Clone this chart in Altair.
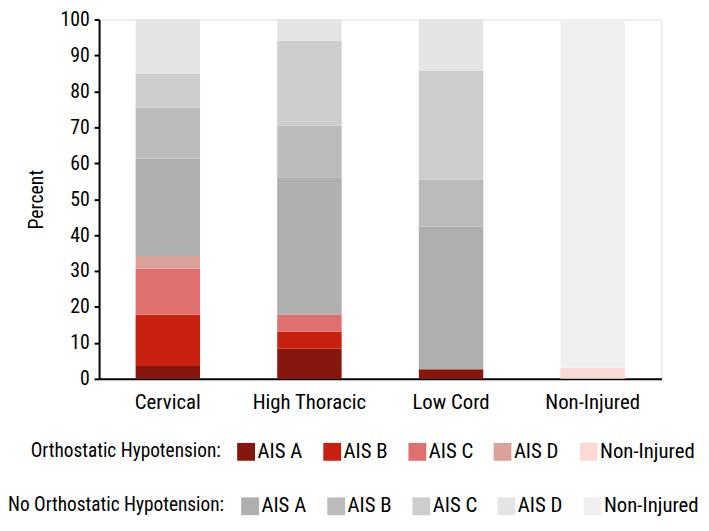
import altair as alt
import pandas as pd

groups = ["Cervical", "High Thoracic", "Low Cord", "Non-Injured"]
levels = ["AIS A", "AIS B", "AIS C", "AIS D", "Non-Injured"]

# percent values per group, order: AIS A, AIS B, AIS C, AIS D, Non-Injured
oh_values = {
    "Cervical": [3.6, 14.2, 12.9, 3.5, 0.0],
    "High Thoracic": [8.4, 4.7, 4.8, 0.0, 0.0],
    "Low Cord": [2.7, 0.0, 0.0, 0.0, 0.0],
    "Non-Injured": [0.0, 0.0, 0.0, 0.0, 3.1],
}
no_oh_values = {
    "Cervical": [27.1, 14.1, 9.4, 15.2, 0.0],
    "High Thoracic": [38.2, 14.3, 23.7, 5.9, 0.0],
    "Low Cord": [39.7, 13.1, 30.3, 14.2, 0.0],
    "Non-Injured": [0.0, 0.0, 0.0, 0.0, 96.9],
}

oh_colors = ["#87160c", "#c8210f", "#e07070", "#dba19b", "#fbd9d5"]
no_oh_colors = ["#afafaf", "#bbbbbb", "#cdcdcd", "#e4e4e4", "#f0f0f0"]

rows = []
for g in groups:
    for i, lv in enumerate(levels):
        rows.append({"group": g, "oh": "OH", "level": lv, "order": i, "value": oh_values[g][i]})
    for i, lv in enumerate(levels):
        rows.append({"group": g, "oh": "NoOH", "level": lv, "order": 10 + i, "value": no_oh_values[g][i]})
df = pd.DataFrame(rows)

FONT = "Roboto Condensed"

base = alt.Chart(df).transform_stack(
    stack="value", as_=["y0", "y1"], groupby=["group"], sort=[alt.SortField("order")]
)

x_enc = alt.X(
    "group:N", sort=groups, title=None,
    scale=alt.Scale(paddingInner=0.545, paddingOuter=0.258),
    axis=alt.Axis(labelAngle=0, labelFontSize=21, ticks=False, domainWidth=2,
                  domainColor="black", labelColor="black", labelPadding=13, labelFont=FONT),
)
y_enc = alt.Y(
    "y0:Q", title="Percent",
    scale=alt.Scale(domain=[0, 100], nice=False),
    axis=alt.Axis(values=list(range(0, 101, 10)), grid=False, labelFontSize=20,
                  tickSize=5, tickWidth=2, tickColor="black", domainWidth=2, domainColor="black",
                  labelColor="black", titleFontSize=20, titleFontWeight="normal", titleColor="black",
                  titlePadding=14, labelFont=FONT, titleFont=FONT, labelPadding=5),
)

common_legend = dict(
    orient="none", direction="horizontal", columns=5, titleOrient="left",
    symbolType="square", symbolSize=324, symbolStrokeWidth=0, symbolOpacity=1,
    labelFontSize=21, titleFontSize=19.5, titleFontWeight="normal", labelFont=FONT, titleFont=FONT,
    labelColor="black", titleColor="black", labelOffset=1, columnPadding=19, titlePadding=15,
    titleLimit=400, labelLimit=200,
)

oh_layer = base.transform_filter(alt.datum.oh == "OH").mark_bar().encode(
    x=x_enc, y=y_enc, y2="y1:Q",
    color=alt.Color("level:N", scale=alt.Scale(domain=levels, range=oh_colors),
                    legend=alt.Legend(title="Orthostatic Hypotension:", legendX=-69, legendY=426,
                                      **common_legend)),
)
no_oh_layer = base.transform_filter(alt.datum.oh == "NoOH").mark_bar().encode(
    x=x_enc, y=y_enc, y2="y1:Q",
    color=alt.Color("level:N", scale=alt.Scale(domain=levels, range=no_oh_colors),
                    legend=alt.Legend(title="No Orthostatic Hypotension:", legendX=-92, legendY=481,
                                      **common_legend)),
)

chart = alt.layer(oh_layer, no_oh_layer).resolve_scale(color="independent").properties(
    width=568, height=363,
    autosize=alt.AutoSizeParams(type="none"),
    padding={"left": 92, "top": 9, "right": 40, "bottom": 139},
).configure_view(stroke=None).configure(font=FONT)

chart.save("out.html", embed_options={"renderer": "svg", "actions": False})
